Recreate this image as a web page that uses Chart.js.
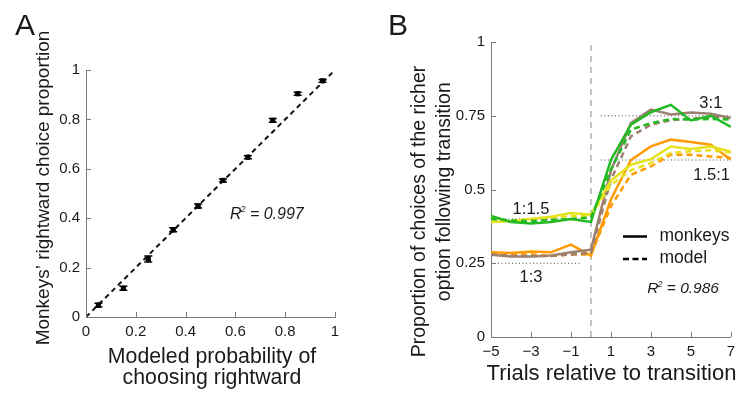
<!DOCTYPE html>
<html lang="en">
<head>
<meta charset="UTF-8">
<title>Monkey choice vs model</title>
<script src="https://cdn.jsdelivr.net/npm/chart.js"></script>
<style>
  body { margin: 0; background: #fff; }
  #wrap { position: relative; width: 741px; height: 394px; }
  .panel { position: absolute; top: 0; height: 394px; }
  #panelA { left: 0; width: 370px; }
  #panelB { left: 370px; width: 371px; }
</style>
</head>
<body>
<div id="wrap">
  <div class="panel" id="panelA"><canvas id="chartA"></canvas></div>
  <div class="panel" id="panelB"><canvas id="chartB"></canvas></div>
</div>
<script>
// ---- panel A data ----
const modelProb = [0.05, 0.15, 0.25, 0.35, 0.45, 0.55, 0.65, 0.75, 0.85, 0.95];
const monkeyProp = [0.048, 0.116, 0.235, 0.353, 0.449, 0.553, 0.647, 0.796, 0.904, 0.956];
const monkeyErr = [0.008, 0.008, 0.012, 0.008, 0.008, 0.006, 0.006, 0.008, 0.006, 0.006];
const unityX = [0, 1];
const unityY = [0, 1];
const ticksA = [0, 0.2, 0.4, 0.6, 0.8, 1];

// ---- panel B data ----
const trials = [-5, -4, -3, -2, -1, 0, 1, 2, 3, 4, 5, 6, 7];
const greenMonkey  = [0.41, 0.39, 0.385, 0.39, 0.40, 0.39, 0.60, 0.72, 0.762, 0.787, 0.734, 0.75, 0.712];
const greenModel   = [0.40, 0.395, 0.393, 0.397, 0.40, 0.405, 0.567, 0.703, 0.725, 0.739, 0.737, 0.739, 0.737];
const yellowMonkey = [0.39, 0.392, 0.40, 0.408, 0.42, 0.415, 0.53, 0.584, 0.603, 0.646, 0.637, 0.646, 0.629];
const yellowModel  = [0.40, 0.395, 0.40, 0.403, 0.41, 0.41, 0.516, 0.565, 0.59, 0.624, 0.63, 0.633, 0.625];
const orangeMonkey = [0.287, 0.285, 0.29, 0.287, 0.313, 0.276, 0.466, 0.60, 0.646, 0.669, 0.661, 0.652, 0.601];
const orangeModel  = [0.285, 0.28, 0.28, 0.275, 0.28, 0.28, 0.443, 0.55, 0.578, 0.618, 0.618, 0.612, 0.607];
const brownMonkey  = [0.279, 0.273, 0.273, 0.276, 0.287, 0.296, 0.564, 0.725, 0.771, 0.754, 0.761, 0.757, 0.742];
const brownModel   = [0.28, 0.275, 0.275, 0.275, 0.28, 0.285, 0.533, 0.68, 0.72, 0.735, 0.74, 0.745, 0.745];
const refLevel = [0.75, 0.6, 0.4, 0.25];
const refFrom  = [0.5, 0.5, -5, -5];
const refTo    = [7, 7, -0.5, -0.5];
const transX = [0, 0];
const transY = [0, 1];
const ticksBx = [-5, -3, -1, 1, 3, 5, 7];
const ticksBy = [0, 0.25, 0.5, 0.75, 1];

const FONT = '"Liberation Sans", Arial, Helvetica, sans-serif';
const TEXT = '#1a1a1a';
const AXIS = '#7a7a7a';
const GREEN = '#22b922', YELLOW = '#e6e21e', ORANGE = '#ff9a00', BROWN = '#9c8070';

const pts = (xs, ys) => xs.map((x, i) => ({ x: x, y: ys[i] }));

function text(ctx, str, x, y, size, opts) {
  opts = opts || {};
  ctx.save();
  ctx.font = (opts.italic ? 'italic ' : '') + size + 'px ' + FONT;
  ctx.fillStyle = TEXT;
  ctx.textAlign = opts.align || 'left';
  ctx.textBaseline = 'alphabetic';
  if (opts.rotate) {
    ctx.translate(x, y);
    ctx.rotate(-Math.PI / 2);
    ctx.fillText(str, 0, 0);
  } else {
    ctx.fillText(str, x, y);
  }
  ctx.restore();
}

// "R² = value", italic, left aligned at baseline
function rSquared(ctx, x, y, size, value) {
  ctx.save();
  ctx.fillStyle = TEXT;
  ctx.font = 'italic ' + size + 'px ' + FONT;
  ctx.fillText('R', x, y);
  let w = ctx.measureText('R').width;
  ctx.font = 'italic ' + Math.round(size * 0.55) + 'px ' + FONT;
  ctx.fillText('2', x + w - 1, y - size * 0.42);
  w += ctx.measureText('2').width - 1;
  ctx.font = 'italic ' + size + 'px ' + FONT;
  ctx.fillText(' = ' + value, x + w, y);
  ctx.restore();
}

function innerTicks(chart, len) {
  const { ctx, chartArea: a, scales: { x, y } } = chart;
  ctx.save();
  ctx.strokeStyle = AXIS;
  ctx.lineWidth = 1;
  ctx.beginPath();
  x.ticks.forEach(t => {
    const px = Math.round(x.getPixelForValue(t.value)) + 0.5;
    ctx.moveTo(px, a.bottom);
    ctx.lineTo(px, a.bottom - len);
  });
  y.ticks.forEach(t => {
    const py = Math.round(y.getPixelForValue(t.value)) + 0.5;
    ctx.moveTo(a.left, py);
    ctx.lineTo(a.left + len, py);
  });
  ctx.stroke();
  ctx.restore();
}

function axisScale(min, max, ticks, fit, fmt) {
  return {
    type: 'linear', min: min, max: max,
    afterBuildTicks: s => { s.ticks = ticks.map(v => ({ value: v })); },
    afterFit: fit,
    grid: { drawOnChartArea: false, drawTicks: false },
    border: { display: true, color: AXIS, width: 1 },
    ticks: {
      autoSkip: false, maxRotation: 0, padding: 6,
      color: TEXT, font: { family: FONT, size: 15 },
      callback: fmt || (v => String(v))
    }
  };
}

// ---- panel A ----
const errorBars = {
  id: 'errorBars',
  afterDatasetsDraw(chart) {
    const { ctx, scales: { x, y } } = chart;
    ctx.save();
    ctx.strokeStyle = '#000';
    ctx.lineWidth = 1.5;
    modelProb.forEach((p, i) => {
      const px = x.getPixelForValue(p);
      const top = y.getPixelForValue(monkeyProp[i] + monkeyErr[i]);
      const bot = y.getPixelForValue(monkeyProp[i] - monkeyErr[i]);
      ctx.beginPath();
      ctx.moveTo(px, top); ctx.lineTo(px, bot);
      ctx.moveTo(px - 4, top); ctx.lineTo(px + 4, top);
      ctx.moveTo(px - 4, bot); ctx.lineTo(px + 4, bot);
      ctx.stroke();
    });
    ctx.restore();
  }
};

const decorA = {
  id: 'decorA',
  afterDraw(chart) {
    const { ctx, scales: { x, y } } = chart;
    innerTicks(chart, 5);
    text(ctx, 'A', 15, 35, 30);
    text(ctx, 'Monkeys\u2019 rightward choice proportion', 49, 188, 19, { rotate: true, align: 'center' });
    text(ctx, 'Modeled probability of', 212, 363, 21.3, { align: 'center' });
    text(ctx, 'choosing rightward', 212, 384, 21.3, { align: 'center' });
    rSquared(ctx, x.getPixelForValue(0.578), y.getPixelForValue(0.397), 16, '0.997');
  }
};

new Chart(document.getElementById('chartA'), {
  data: {
    datasets: [
      {
        type: 'scatter', data: pts(modelProb, monkeyProp),
        backgroundColor: '#000', borderColor: '#000', pointRadius: 3, pointStyle: 'rect'
      },
      {
        type: 'line', data: pts(unityX, unityY),
        borderColor: '#111', borderWidth: 2, borderDash: [5, 4], pointRadius: 0, fill: false
      }
    ]
  },
  options: {
    responsive: true, maintainAspectRatio: false, animation: false,
    layout: { padding: { top: 70, right: 35, left: 0, bottom: 0 } },
    plugins: { legend: { display: false }, tooltip: { enabled: false } },
    scales: {
      x: axisScale(0, 1, ticksA, s => { s.height = 77; }),
      y: axisScale(0, 1, ticksA, s => { s.width = 86; })
    }
  },
  plugins: [errorBars, decorA]
});

// ---- panel B ----
const minus = v => (v < 0 ? '\u2212' + Math.abs(v) : String(v));

const decorB = {
  id: 'decorB',
  afterDraw(chart) {
    const { ctx, chartArea: a, scales: { x, y } } = chart;
    innerTicks(chart, 5);
    text(ctx, 'B', 18, 35, 30);
    text(ctx, 'Proportion of choices of the richer', 55, 211.5, 19.5, { rotate: true, align: 'center' });
    text(ctx, 'option following transition', 80, 191.7, 19.5, { rotate: true, align: 'center' });
    text(ctx, 'Trials relative to transition', 241.5, 380, 22, { align: 'center' });
    text(ctx, '3:1', x.getPixelForValue(6), y.getPixelForValue(0.776), 16.5, { align: 'center' });
    text(ctx, '1.5:1', x.getPixelForValue(6.04), y.getPixelForValue(0.533), 16.5, { align: 'center' });
    text(ctx, '1:1.5', x.getPixelForValue(-3), y.getPixelForValue(0.418), 16.5, { align: 'center' });
    text(ctx, '1:3', x.getPixelForValue(-3), y.getPixelForValue(0.188), 16.5, { align: 'center' });
    // legend
    ctx.save();
    ctx.strokeStyle = '#000';
    ctx.lineWidth = 2.5;
    ctx.beginPath();
    ctx.moveTo(a.left + 132, a.top + 194.5); ctx.lineTo(a.left + 156, a.top + 194.5);
    ctx.stroke();
    ctx.setLineDash([6, 3.5]);
    ctx.beginPath();
    ctx.moveTo(a.left + 132, a.top + 217); ctx.lineTo(a.left + 156, a.top + 217);
    ctx.stroke();
    ctx.restore();
    text(ctx, 'monkeys', a.left + 168.5, a.top + 198.5, 17.5);
    text(ctx, 'model', a.left + 168.5, a.top + 221, 17.5);
    rSquared(ctx, x.getPixelForValue(2.82), y.getPixelForValue(0.149), 15.5, '0.986');
  }
};

const solid = (ys, color) => ({
  type: 'line', data: pts(trials, ys), borderColor: color, borderWidth: 2.5,
  pointRadius: 0, fill: false, tension: 0
});
const dashed = (ys, color) => ({
  type: 'line', data: pts(trials, ys), borderColor: color, borderWidth: 2.5,
  borderDash: [6, 4], pointRadius: 0, fill: false, tension: 0
});
const refLines = refLevel.map((lv, i) => ({
  type: 'line', data: [{ x: refFrom[i], y: lv }, { x: refTo[i], y: lv }],
  borderColor: '#444', borderWidth: 1, borderDash: [1, 2.5], pointRadius: 0, fill: false
}));

new Chart(document.getElementById('chartB'), {
  data: {
    datasets: [
      dashed(greenModel, GREEN),
      dashed(yellowModel, YELLOW),
      solid(greenMonkey, GREEN),
      solid(yellowMonkey, YELLOW),
      dashed(brownModel, BROWN),
      dashed(orangeModel, ORANGE),
      solid(brownMonkey, BROWN),
      solid(orangeMonkey, ORANGE),
      {
        type: 'line', data: pts(transX, transY), borderColor: '#999', borderWidth: 1.2,
        borderDash: [6, 5], pointRadius: 0, fill: false
      }
    ].concat(refLines)
  },
  options: {
    responsive: true, maintainAspectRatio: false, animation: false,
    layout: { padding: { top: 42, right: 9, left: 0, bottom: 0 } },
    plugins: { legend: { display: false }, tooltip: { enabled: false } },
    scales: {
      x: axisScale(-5, 7, ticksBx, s => { s.height = 57; }, minus),
      y: axisScale(0, 1, ticksBy, s => { s.width = 121; })
    }
  },
  plugins: [decorB]
});
</script>
</body>
</html>
